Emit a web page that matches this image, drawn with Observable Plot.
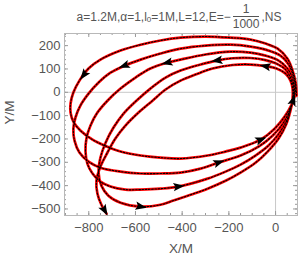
<!DOCTYPE html>
<html><head><meta charset="utf-8">
<script src="https://cdn.jsdelivr.net/npm/d3@7"></script>
<script src="https://cdn.jsdelivr.net/npm/@observablehq/plot@0.6"></script>
<style>
body{margin:0;background:#fff;}
#wrap{position:relative;width:300px;height:261px;overflow:hidden;}
#title{position:absolute;top:0;left:0;width:300px;height:33px;display:flex;justify-content:center;align-items:center;padding-left:58px;box-sizing:border-box;font-family:"Liberation Sans",Arial,sans-serif;font-size:12px;color:#555;white-space:nowrap;}
.frac{display:inline-flex;flex-direction:column;align-items:center;margin:0 2px;line-height:12px;}
.frac .bar{height:1px;background:#555;align-self:stretch;margin:1px 0;}
.sub{font-size:8px;position:relative;top:3px;}
</style></head><body>
<div id="wrap"><div id="chart"></div><div id="title">a=1.2M,α=1,l<span class="sub">0</span>=1M,L=12,E=−<span class="frac"><span>1</span><span class="bar"></span><span>1000</span></span>,NS</div></div>
<script>
// orbit trajectory (X/M, Y/M)
const orbitX = [90,86,73,51,9,-43,-107,-193,-300,-407,-493,-578,-664,-750,-801,-840,-866,-878,-878,
 -866,-836,-784,-733,-664,-578,-493,-407,-291,-214,-150,-64,-4,39,69,81,
 86,77,56,21,-43,-107,-193,-300,-407,-493,-578,-647,-707,-758,-801,-836,-857,-866,-861,-840,-801,-750,-664,-578,-493,-407,-321,-244,-150,-73,-13,34,64,77,
 81,73,51,13,-43,-107,-193,-300,-407,-463,-536,-600,-664,-720,-763,-793,-810,-814,-806,-784,-750,-707,-643,-578,-493,-416,-291,-214,-150,-86,-30,17,51,69,77,
 77,64,43,4,-43,-107,-184,-252,-325,-407,-471,-536,-596,-651,-694,-728,-750,-758,-746,-716,-664,-578,-493,-437,-364,-291,-214,-150,-86,-34,13,47,64,73,
 73,64,43,4,-43,-107,-184,-270,-343,-407,-471,-527,-587,-643,-686,-720,-750,-767,-763,-746,-724];
const orbitY = [-14,42,93,144,187,209,226,234,239,234,222,204,179,140,102,50,-1,-48,-87,
 -126,-164,-203,-228,-254,-271,-280,-284,-271,-254,-237,-203,-156,-104,-53,-18,
 16,67,119,157,183,196,204,200,187,166,140,114,84,42,-6,-57,-108,-156,-207,-258,-297,-323,-340,-348,-348,-344,-327,-301,-271,-233,-186,-130,-70,-27,
 16,59,102,136,157,170,174,162,140,127,102,63,16,-36,-87,-143,-198,-254,-306,-348,-383,-404,-417,-417,-413,-404,-370,-340,-310,-271,-228,-173,-113,-57,-10,
 25,63,97,123,138,147,146,136,118,93,63,16,-36,-91,-151,-216,-280,-344,-400,-443,-473,-490,-482,-464,-439,-413,-379,-344,-302,-254,-198,-134,-78,-27,
 16,50,80,102,112,119,117,102,76,50,12,-36,-87,-143,-198,-258,-318,-378,-434,-482,-520];
// arrowhead positions
const arrowX = [-827,-647,-463,-249,-43,-64,-244,-416,-578,-733,77];
const arrowY = [80,114,127,136,110,-203,-301,-404,-490,-505,-36];
const xTicks = [-800,-600,-400,-200,0];
const yTicks = [-500,-400,-300,-200,-100,0,100,200];
const xDomain = [-904, 94];
const yDomain = [-528, 252];

const W = 300, H = 261, mL = 64, mR = 3, mT = 33, mB = 46;
const pw = W - mL - mR, ph = H - mT - mB;
const kx = pw / (xDomain[1] - xDomain[0]), ky = ph / (yDomain[1] - yDomain[0]);

const orbit = orbitX.map((x, i) => ({x, y: orbitY[i]}));
const arrows = arrowX.map((ax, i) => {
  const ay = arrowY[i];
  let best = Infinity, bx, by, ang;
  for (let j = 0; j < orbit.length - 1; j++) {
    const p = orbit[j], q = orbit[j + 1];
    const dx = (q.x - p.x) * kx, dy = (q.y - p.y) * ky;
    const ex = (ax - p.x) * kx, ey = (ay - p.y) * ky;
    let t = (ex * dx + ey * dy) / (dx * dx + dy * dy);
    t = Math.max(0, Math.min(1, t));
    const d = (ex - t * dx) ** 2 + (ey - t * dy) ** 2;
    if (d < best) { best = d; bx = p.x + t * (q.x - p.x); by = p.y + t * (q.y - p.y); ang = Math.atan2(dx, dy) * 180 / Math.PI; }
  }
  return {x: bx, y: by, rotate: ang};
});

const arrowHead = {draw(ctx, size) {
  const r = Math.sqrt(size / Math.PI);
  ctx.moveTo(0, -r * 1.1);
  ctx.lineTo(r * 0.75, r * 0.9);
  ctx.lineTo(0, r * 0.5);
  ctx.lineTo(-r * 0.75, r * 0.9);
  ctx.closePath();
}};

const fmt = d => d < 0 ? "\u2212" + Math.abs(d) : String(d);
const xMinor = d3.range(-900, 100, 50);
const yMinor = d3.range(-520, 260, 20);
const tc = "#9a9a9a";

const chart = Plot.plot({
  width: W, height: H,
  marginLeft: mL, marginRight: mR, marginTop: mT, marginBottom: mB,
  style: {fontFamily: "'Liberation Sans', Arial, sans-serif", fontSize: "13px", color: "#555", background: "white"},
  x: {domain: xDomain, ticks: xTicks, tickSize: 0, tickPadding: 7, label: null, tickFormat: fmt},
  y: {domain: yDomain, ticks: yTicks, tickSize: 0, tickPadding: 4, label: null, tickFormat: fmt},
  marks: [
    Plot.ruleX([0], {stroke: "#c8c8c8", strokeWidth: 1}),
    Plot.ruleY([0], {stroke: "#c8c8c8", strokeWidth: 1}),
    Plot.tickX(xMinor, {x: d => d, insetTop: ph - 2, stroke: tc}),
    Plot.tickX(xTicks, {x: d => d, insetTop: ph - 4, stroke: tc}),
    Plot.tickX(xMinor, {x: d => d, insetBottom: ph - 2, stroke: tc}),
    Plot.tickX(xTicks, {x: d => d, insetBottom: ph - 4, stroke: tc}),
    Plot.tickY(yMinor, {y: d => d, insetRight: pw - 2, stroke: tc}),
    Plot.tickY(yTicks, {y: d => d, insetRight: pw - 4, stroke: tc}),
    Plot.tickY(yMinor, {y: d => d, insetLeft: pw - 2, stroke: tc}),
    Plot.tickY(yTicks, {y: d => d, insetLeft: pw - 4, stroke: tc}),
    Plot.frame({stroke: "#b8b8b8"}),
    Plot.line(orbit, {x: "x", y: "y", stroke: "#ff0000", strokeWidth: 2.7, curve: "catmull-rom"}),
    Plot.line(orbit, {x: "x", y: "y", stroke: "#000", strokeWidth: 1.1, strokeDasharray: "1.6,1.6", curve: "catmull-rom"}),
    Plot.dot(arrows, {x: "x", y: "y", rotate: "rotate", symbol: arrowHead, r: 5.6, fill: "#000", stroke: "none"}),
    Plot.text(["X/M"], {text: d => d, frameAnchor: "bottom", dy: 37, fontSize: 13.5, fill: "#555"}),
    Plot.text(["Y/M"], {text: d => d, frameAnchor: "left", dx: -55, rotate: -90, fontSize: 13.5, fill: "#555"})
  ]
});
document.getElementById("chart").appendChild(chart);
</script>
</body></html>
